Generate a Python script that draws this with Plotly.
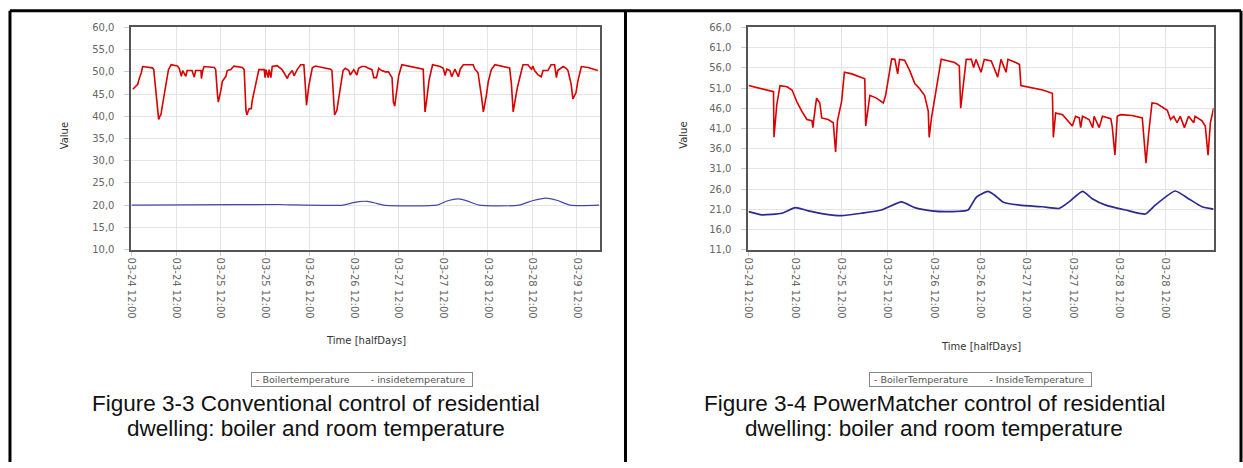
import plotly.graph_objects as go

# ---------------- data: left chart (conventional control) ----------------
# time in half-days since first tick
left_boiler_t = [0.03,0.14,0.18,0.22,0.25,0.47,0.50,0.55,0.59,0.61,0.64,0.66,0.70,0.74,0.78,0.83,0.89,1.03,1.07,1.12,
 1.15,1.22,1.25,1.36,1.41,1.44,1.56,1.57,1.60,1.63,1.86,1.89,1.93,1.95,2.01,2.04,2.12,2.15,2.23,2.30,
 2.49,2.53,2.57,2.59,2.64,2.69,2.71,2.76,2.81,2.86,2.98,3.00,3.02,3.07,3.09,3.13,3.16,3.27,3.38,3.46,
 3.50,3.53,3.61,3.65,3.72,3.80,3.87,3.91,3.93,3.98,4.02,4.06,4.13,4.47,4.50,4.54,4.56,4.61,4.65,4.69,
 4.75,4.80,4.88,4.91,4.99,5.06,5.10,5.17,5.25,5.32,5.40,5.44,5.50,5.55,5.62,5.70,5.77,5.85,5.88,5.91,
 5.96,6.00,6.07,6.33,6.51,6.55,6.58,6.59,6.63,6.68,6.76,6.93,7.00,7.04,7.08,7.15,7.19,7.26,7.34,7.38,
 7.45,7.67,7.71,7.78,7.86,7.90,7.97,8.01,8.08,8.16,8.49,8.53,8.57,8.61,8.66,8.72,8.79,8.90,8.98,9.01,
 9.05,9.13,9.20,9.24,9.35,9.42,9.50,9.54,9.57,9.69,9.76,9.80,9.87,9.91,9.98,10.02,10.10,10.25,10.36,10.47]
left_boiler_v = [46.1,47.2,48.7,49.8,51.2,50.9,50.5,45.0,40.3,39.3,40.1,40.3,42.8,45.0,47.9,50.5,51.6,51.3,50.8,49.0,
 50.3,49.0,50.3,50.3,48.8,50.3,50.3,48.5,50.3,51.2,51.0,50.5,45.0,43.2,46.0,47.9,49.0,50.3,50.5,51.3,
 51.0,50.5,41.3,40.3,41.7,41.7,43.5,46.0,48.8,50.5,50.5,48.7,50.5,48.7,50.5,48.7,51.2,51.4,50.5,49.3,
 48.5,49.3,50.3,49.1,50.5,51.6,51.6,45.8,42.5,46.8,48.8,50.9,51.3,50.6,50.3,41.3,40.3,41.3,43.9,46.3,
 50.3,50.8,50.3,49.3,50.5,49.3,50.8,51.2,51.2,50.8,50.5,48.7,48.7,50.8,50.3,50.0,50.0,48.7,43.2,42.3,
 46.5,49.2,51.6,51.1,50.8,50.6,43.5,41.0,43.8,48.1,51.6,51.2,50.8,49.2,50.6,50.3,48.9,50.6,48.9,50.6,
 51.6,51.6,50.6,49.8,44.3,41.0,44.8,47.8,50.5,51.6,50.9,47.3,41.0,43.5,46.3,48.8,51.6,51.6,50.6,51.3,
 50.3,49.3,48.9,50.3,50.3,51.6,51.6,48.7,50.3,51.2,50.8,50.3,47.3,43.9,45.3,47.8,51.2,51.0,50.6,50.3]

left_inside_t = [0.0,1.2,3.3,3.6,4.75,4.95,5.1,5.3,5.5,5.66,6.85,7.1,7.34,7.55,7.8,8.7,9.0,9.3,9.55,9.85,10.5]
left_inside_v = [20.0,20.05,20.15,20.05,20.0,20.5,20.8,20.85,20.4,20.0,20.0,21.0,21.4,20.9,20.0,20.0,21.0,21.6,21.1,20.0,20.0]

left_xtick_vals = [0,1,2,3,4,5,6,7,8,9,10]
left_xtick_text = ["03-24 12:00","03-24 12:00","03-25 12:00","03-25 12:00","03-26 12:00","03-26 12:00",
                   "03-27 12:00","03-27 12:00","03-28 12:00","03-28 12:00","03-29 12:00"]
left_ytick_vals = [10,15,20,25,30,35,40,45,50,55,60]
left_ytick_text = ["10,0","15,0","20,0","25,0","30,0","35,0","40,0","45,0","50,0","55,0","60,0"]

# ---------------- data: right chart (PowerMatcher control) ----------------
right_boiler_t = [0.00,0.54,0.55,0.61,0.68,0.83,0.94,1.04,1.15,1.26,1.37,1.39,1.44,1.47,1.54,1.58,1.72,1.83,1.88,1.92,
 2.01,2.07,2.23,2.51,2.53,2.62,2.76,2.91,2.96,3.02,3.09,3.16,3.22,3.26,3.37,3.48,3.59,3.69,3.80,3.88,
 3.90,3.95,4.02,4.16,4.45,4.55,4.58,4.63,4.70,4.81,4.86,4.91,5.02,5.09,5.24,5.38,5.45,5.56,5.60,5.77,
 5.85,5.88,6.35,6.56,6.58,6.63,6.78,6.99,7.06,7.14,7.17,7.21,7.35,7.43,7.46,7.57,7.64,7.82,7.85,7.91,
 7.96,8.03,8.28,8.50,8.58,8.64,8.71,8.82,8.96,9.04,9.11,9.18,9.25,9.32,9.41,9.50,9.61,9.64,9.79,9.86,
 9.92,9.97,10.04]
right_boiler_v = [51.6,50.1,38.8,46.8,51.6,51.3,50.5,47.7,45.3,43.2,42.9,41.2,46.0,48.5,47.3,43.6,43.2,42.4,35.2,42.9,
 47.7,54.9,54.5,53.3,41.6,49.2,48.5,47.3,49.2,53.3,58.2,58.1,54.5,58.1,57.9,55.3,52.1,50.9,49.2,45.3,
 38.8,43.6,48.5,58.1,57.3,56.5,46.0,50.9,58.1,58.1,56.1,58.1,54.9,58.1,57.7,53.7,58.1,54.9,58.1,57.3,
 56.8,51.6,50.5,49.7,38.8,44.8,44.4,41.6,44.0,43.6,41.2,44.0,43.2,41.2,44.0,41.2,44.0,43.4,41.6,34.4,
 44.0,44.4,44.2,43.6,32.4,40.0,47.3,47.1,46.0,45.5,43.2,44.0,42.4,44.0,41.2,44.0,42.4,44.0,42.9,41.6,
 34.4,42.4,46.0]

right_inside_t = [0.00,0.29,0.72,1.01,1.29,1.65,2.01,2.44,2.87,3.30,3.59,3.95,4.31,4.74,4.81,4.92,5.17,5.32,5.49,5.85,
 6.35,6.71,6.92,7.21,7.42,7.71,8.14,8.57,8.78,9.21,9.50,9.79,10.04]
right_inside_v = [20.4,19.6,20.0,21.4,20.6,19.8,19.4,20.0,20.8,22.8,21.4,20.6,20.4,20.8,22.0,24.0,25.4,24.4,22.8,22.0,
 21.6,21.2,22.8,25.4,23.6,22.0,20.8,19.8,22.0,25.5,23.6,21.6,21.0]

right_xtick_vals = [0,1,2,3,4,5,6,7,8,9]
right_xtick_text = ["03-24 12:00","03-24 12:00","03-25 12:00","03-25 12:00","03-26 12:00","03-26 12:00",
                    "03-27 12:00","03-27 12:00","03-28 12:00","03-28 12:00"]
right_ytick_vals = [11,16,21,26,31,36,41,46,51,56,61,66]
right_ytick_text = ["11,0","16,0","21,0","26,0","31,0","36,0","41,0","46,0","51,0","56,0","61,0","66,0"]

# ---------------- figure ----------------
W, H = 1243, 468
RED = "#d80000"
BLUE = "#4646a8"
fig = go.Figure()

fig.add_trace(go.Scatter(x=left_boiler_t, y=left_boiler_v, mode="lines", name="Boilertemperature",
                         line=dict(color=RED, width=1.6), xaxis="x", yaxis="y", showlegend=False))
fig.add_trace(go.Scatter(x=left_inside_t, y=left_inside_v, mode="lines", name="insidetemperature",
                         line=dict(color=BLUE, width=1.2, shape="spline", smoothing=0.6), xaxis="x", yaxis="y", showlegend=False))
fig.add_trace(go.Scatter(x=right_boiler_t, y=right_boiler_v, mode="lines", name="BoilerTemperature",
                         line=dict(color=RED, width=1.6), xaxis="x2", yaxis="y2", showlegend=False))
fig.add_trace(go.Scatter(x=right_inside_t, y=right_inside_v, mode="lines", name="InsideTemperature",
                         line=dict(color="#2a2a90", width=1.7, shape="spline", smoothing=0.5), xaxis="x2", yaxis="y2", showlegend=False))

tickfont = dict(family="DejaVu Sans", size=10, color="#666666")
ydom = [1 - 250 / H, 1 - 22 / H]

def xax(dom, rng, vals, text):
    return dict(domain=dom, range=rng, tickmode="array", tickvals=vals, ticktext=text, tickangle=90,
                tickfont=tickfont, showgrid=True, gridcolor="#e4e4e4", gridwidth=1, zeroline=False,
                showline=True, mirror=True, linecolor="#555555", linewidth=2,
                ticks="outside", ticklen=4, tickcolor="#cccccc", fixedrange=True)

def yax(rng, vals, text, anchor):
    return dict(domain=ydom, range=rng, tickmode="array", tickvals=vals, ticktext=text,
                tickfont=tickfont, showgrid=True, gridcolor="#e4e4e4", gridwidth=1, zeroline=False,
                showline=True, mirror=True, linecolor="#555555", linewidth=2, anchor=anchor,
                ticks="outside", ticklen=5, tickcolor="#cccccc", ticklabelstandoff=8, fixedrange=True)

fig.update_layout(
    width=W, height=H, margin=dict(l=0, r=0, t=0, b=0),
    paper_bgcolor="white", plot_bgcolor="white",
    xaxis=xax([127 / W, 597 / W], [0, 10.51], left_xtick_vals, left_xtick_text) | dict(anchor="y"),
    yaxis=yax([10, 60], left_ytick_vals, left_ytick_text, "x"),
    xaxis2=xax([746.5 / W, 1213.5 / W], [0, 10.04], right_xtick_vals, right_xtick_text) | dict(anchor="y2"),
    yaxis2=yax([11, 66], right_ytick_vals, right_ytick_text, "x2"),
)

def px(x): return x / W
def py(y): return 1 - y / H

annots = []
# axis titles
for cx, cy, t, ang in [(60, 133, "Value", -90), (681, 133, "Value", -90),
                       (362, 343, "Time [halfDays]", 0), (980, 349, "Time [halfDays]", 0)]:
    annots.append(dict(x=px(cx), y=py(cy), xref="paper", yref="paper", text=t, showarrow=False,
                       textangle=ang, font=dict(family="DejaVu Sans", size=10, color="#333333"),
                       xanchor="center", yanchor="middle"))
# legends
annots.append(dict(x=px(358), y=py(383), xref="paper", yref="paper", showarrow=False,
                   xanchor="center", yanchor="middle",
                   text=" <span style='color:#d80000'>-</span> Boilertemperature       <span style='color:#4646a8'>-</span> insidetemperature  ",
                   font=dict(family="DejaVu Sans", size=9.5, color="#555555"),
                   bordercolor="#888888", borderwidth=1, borderpad=1, bgcolor="white"))
annots.append(dict(x=px(979), y=py(383), xref="paper", yref="paper", showarrow=False,
                   xanchor="center", yanchor="middle",
                   text=" <span style='color:#d80000'>-</span> BoilerTemperature       <span style='color:#2a2a90'>-</span> InsideTemperature  ",
                   font=dict(family="DejaVu Sans", size=9.5, color="#555555"),
                   bordercolor="#888888", borderwidth=1, borderpad=1, bgcolor="white"))
# captions
for cx, lines in [(312, ["Figure 3-3 Conventional control of residential", "dwelling: boiler and room temperature"]),
                  (933, ["Figure 3-4 PowerMatcher control of residential", "dwelling: boiler and room temperature"])]:
    for i, ln in enumerate(lines):
        annots.append(dict(x=px(cx), y=py(408 + 26 * i), xref="paper", yref="paper", text=ln, showarrow=False,
                           font=dict(family="Liberation Sans, Arial", size=22.5, color="#111111"),
                           xanchor="center", yanchor="middle"))
fig.update_layout(annotations=annots)

# table border lines
shapes = []
for x0, y0, x1, y1 in [(5, 5, 5, 468), (5, 5, 1241, 5), (623, 5, 623, 468), (1241, 5, 1241, 468)]:
    shapes.append(dict(type="line", xref="paper", yref="paper", x0=px(x0), y0=py(y0), x1=px(x1), y1=py(y1),
                       line=dict(color="black", width=3)))
fig.update_layout(shapes=shapes)

fig.write_html("out.html", config={"displayModeBar": False},
               post_script="document.body.style.margin='0';document.body.style.overflow='hidden';")
